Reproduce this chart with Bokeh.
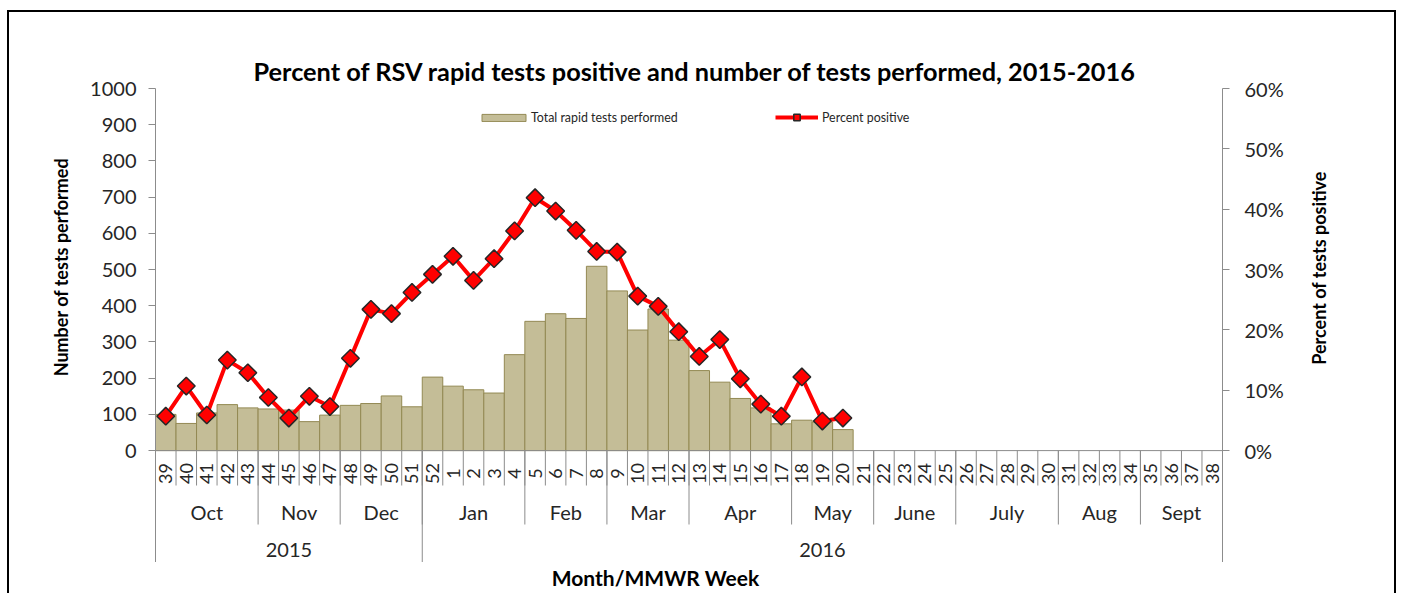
import math
from bokeh.plotting import figure
from bokeh.layouts import row, column
from bokeh.models import (Range1d, LinearAxis, FixedTicker, PrintfTickFormatter,
                          ColumnDataSource, Legend, LegendItem)
from bokeh.core.properties import value
from bokeh.embed import file_html
from bokeh.resources import INLINE

# ---------------- data ----------------
weeks = ["39", "40", "41", "42", "43", "44", "45", "46", "47", "48", "49", "50", "51", "52",
         "1", "2", "3", "4", "5", "6", "7", "8", "9", "10", "11", "12", "13", "14", "15",
         "16", "17", "18", "19", "20", "21", "22", "23", "24", "25", "26", "27", "28", "29",
         "30", "31", "32", "33", "34", "35", "36", "37", "38"]
months = ["Oct", "Nov", "Dec", "Jan", "Feb", "Mar", "Apr", "May", "June", "July", "Aug", "Sept"]
month_spans = [5, 4, 4, 5, 4, 4, 5, 4, 4, 5, 4, 4]
years = ["2015", "2016"]
year_spans = [13, 39]
tests_performed = [100, 75, 104, 127, 118, 115, 112, 80, 98, 125, 130, 151, 121, 203,
                   178, 168, 159, 265, 357, 378, 365, 509, 441, 333, 391, 305, 221, 189,
                   144, 118, 74, 84, 79, 58]
percent_positive = [5.7, 10.7, 5.9, 15.0, 12.9, 8.8, 5.4, 9.0, 7.3, 15.3, 23.4, 22.7, 26.2,
                    29.2, 32.2, 28.2, 31.8, 36.4, 41.9, 39.7, 36.5, 33.0, 32.9, 25.6, 23.9,
                    19.7, 15.6, 18.4, 11.9, 7.7, 5.7, 12.2, 4.9, 5.4]
left_ticks = [0, 100, 200, 300, 400, 500, 600, 700, 800, 900, 1000]
right_ticks = [0, 10, 20, 30, 40, 50, 60]
title_text = "Percent of RSV rapid  tests positive and number of tests performed, 2015-2016"
left_title = "Number of tests performed"
right_title = "Percent of tests positive"
x_title = "Month/MMWR Week"

# ---------------- layout constants (page pixels) ----------------
FONT = "Lato"
HOST_X, HOST_Y, BW = 7, 10, 2
CX, CY = HOST_X + BW, HOST_Y + BW          # canvas origin
RIGHT_EDGE, BOTTOM_EDGE = 1394, 593
FRAME_LEFT, FRAME_RIGHT = 155, 1222
FRAME_TOP, FRAME_BOTTOM = 88, 562
MAIN_X0, MAIN_X1 = 75, 1295                 # main figure span
Y_MAX, Y_MIN = 1000, -309
PCT_MAX = 60
GRAY = "#8C8C8C"
TXT = "#262626"


def px_to_y(py):
    return Y_MAX - (py - FRAME_TOP) * (Y_MAX - Y_MIN) / (FRAME_BOTTOM - FRAME_TOP)


def text_panel(x0, y0, x1, y1, fx0, fy0, fx1, fy1, cx, cy, text, size, angle=0.0):
    """Bare figure over page box (x0,y0)-(x1,y1); its frame is (fx0,fy0)-(fx1,fy1),
    with ranges in page pixels (y negated), holding one bold text centred at (cx, cy)."""
    f = figure(width=x1 - x0, height=y1 - y0, output_backend="svg", toolbar_location=None,
               x_range=Range1d(fx0, fx1), y_range=Range1d(-fy1, -fy0),
               min_border_left=fx0 - x0, min_border_right=x1 - fx1,
               min_border_top=fy0 - y0, min_border_bottom=y1 - fy1,
               x_axis_location=None, y_axis_location=None)
    f.grid.visible = False
    f.outline_line_color = None
    f.background_fill_color = "white"
    f.border_fill_color = "white"
    f.text(x=[cx], y=[-cy], text=[text], angle=angle, text_align="center",
           text_baseline="middle", text_font=value(FONT), text_font_style="bold",
           text_font_size=size, text_color="black")
    return f


n = len(weeks)
p = figure(width=MAIN_X1 - MAIN_X0, height=FRAME_BOTTOM - CY, output_backend="svg",
           toolbar_location=None, x_axis_location=None,
           x_range=Range1d(-0.5, n - 0.5), y_range=Range1d(Y_MIN, Y_MAX),
           min_border_left=FRAME_LEFT - MAIN_X0, min_border_right=MAIN_X1 - FRAME_RIGHT,
           min_border_top=FRAME_TOP - CY, min_border_bottom=0)
p.extra_y_ranges = {"pct": Range1d(Y_MIN * PCT_MAX / Y_MAX, PCT_MAX)}
p.grid.visible = False
p.outline_line_color = None
p.background_fill_color = "white"
p.border_fill_color = "white"

# title
p.title.text = title_text
p.title.align = "left"
p.title.offset = 253 - FRAME_LEFT
p.title.text_font = FONT
p.title.text_font_style = "bold"
p.title.text_font_size = "25.3px"
p.title.text_color = "black"
p.title.standoff = 6

# left axis
ya = p.yaxis[0]
ya.ticker = FixedTicker(ticks=left_ticks)
ya.major_label_text_font = FONT
ya.major_label_text_font_size = "20px"
ya.major_label_text_color = TXT
ya.major_label_standoff = 12
ya.major_tick_out = 7
ya.major_tick_in = 0
ya.minor_tick_line_color = None
ya.axis_line_color = GRAY
ya.major_tick_line_color = GRAY

# right axis
ra = LinearAxis(y_range_name="pct", ticker=FixedTicker(ticks=right_ticks),
                formatter=PrintfTickFormatter(format="%d%%"))
ra.major_label_text_font = FONT
ra.major_label_text_font_size = "20px"
ra.major_label_text_color = TXT
ra.major_label_standoff = 15
ra.major_tick_out = 7
ra.major_tick_in = 0
ra.minor_tick_line_color = None
ra.axis_line_color = GRAY
ra.major_tick_line_color = GRAY
p.add_layout(ra, "right")

# ---------------- data glyphs ----------------
m = len(tests_performed)
src = ColumnDataSource(dict(x=list(range(m)), tests=tests_performed, pct=percent_positive))
bars = p.vbar(x="x", top="tests", bottom=0, width=1.0, source=src,
              fill_color="#C4BD97", line_color="#938953", line_width=1)
line = p.line(x="x", y="pct", source=src, y_range_name="pct", line_color="#FF0000", line_width=4)
marks = p.scatter(x="x", y="pct", source=src, y_range_name="pct", marker="square",
                  angle=math.pi / 4, size=12.5, fill_color="#FF0000", line_color="#262626",
                  line_width=1.5)

# horizontal category axis line at 0
p.segment(x0=[-0.5], x1=[n - 0.5], y0=[0], y1=[0], line_color=GRAY, line_width=1)

# ---------------- multi-level category table ----------------
y_week_end = px_to_y(485)
y_month_end = px_to_y(524)
sep_x = [i - 0.5 for i in range(1, n)]
p.segment(x0=sep_x, x1=sep_x, y0=[0] * len(sep_x), y1=[y_week_end] * len(sep_x),
          line_color=GRAY, line_width=1)

mb, acc = [], 0
for s in month_spans[:-1]:
    acc += s
    mb.append(acc - 0.5)
p.segment(x0=mb, x1=mb, y0=[0] * len(mb), y1=[y_month_end] * len(mb),
          line_color=GRAY, line_width=1)

yb, acc = [], 0
for s in year_spans[:-1]:
    acc += s
    yb.append(acc - 0.5)
p.segment(x0=yb, x1=yb, y0=[0] * len(yb), y1=[Y_MIN] * len(yb),
          line_color=GRAY, line_width=1)

p.text(x=list(range(n)), y=[px_to_y(473)] * n, text=weeks, angle=math.pi / 2,
       text_align="center", text_baseline="middle", text_font=value(FONT),
       text_font_size="18px", text_color=TXT)

mc, acc = [], 0
for s in month_spans:
    mc.append(acc + (s - 1) / 2)
    acc += s
p.text(x=mc, y=[px_to_y(511)] * len(mc), text=months, text_align="center",
       text_baseline="middle", text_font=value(FONT), text_font_size="20px", text_color=TXT)

yc, acc = [], 0
for s in year_spans:
    yc.append(acc + (s - 1) / 2)
    acc += s
p.text(x=yc, y=[px_to_y(549)] * len(yc), text=years, text_align="center",
       text_baseline="middle", text_font=value(FONT), text_font_size="20px", text_color=TXT)

# ---------------- legends ----------------
common = dict(orientation="horizontal", padding=0, margin=0, border_line_color=None,
              background_fill_alpha=0, label_text_font=FONT, label_text_font_size="12.4px",
              label_text_color=TXT, label_height=12)
leg1 = Legend(items=[LegendItem(label="Total rapid tests performed", renderers=[bars])],
              location=(321, FRAME_BOTTOM - 125), glyph_width=55, glyph_height=9,
              label_standoff=0, **common)
leg2 = Legend(items=[LegendItem(label="Percent positive", renderers=[line, marks])],
              location=(620, FRAME_BOTTOM - 125), glyph_width=43, glyph_height=16,
              label_standoff=4, **common)
p.add_layout(leg1)
p.add_layout(leg2)

# ---------------- axis titles ----------------
left_fig = text_panel(CX, CY, MAIN_X0, FRAME_BOTTOM, CX, FRAME_TOP, MAIN_X0, FRAME_BOTTOM,
                      60, 266.5, left_title, "18px", math.pi / 2)
right_fig = text_panel(MAIN_X1, CY, RIGHT_EDGE, FRAME_BOTTOM, MAIN_X1, FRAME_TOP, RIGHT_EDGE,
                       FRAME_BOTTOM, 1318, 267.5, right_title, "18px", math.pi / 2)
bottom_fig = text_panel(CX, FRAME_BOTTOM, RIGHT_EDGE, BOTTOM_EDGE, FRAME_LEFT, FRAME_BOTTOM,
                        FRAME_RIGHT, BOTTOM_EDGE, 655, 577, x_title, "21px")

layout = column(row(left_fig, p, right_fig, spacing=0), bottom_fig, spacing=0)
layout.styles = {"margin-left": f"{HOST_X}px", "margin-top": f"{HOST_Y}px",
                 "border-left": f"{BW}px solid black", "border-top": f"{BW}px solid black",
                 "border-right": f"{BW}px solid black"}

open("out.html", "w").write(file_html(layout, INLINE))
